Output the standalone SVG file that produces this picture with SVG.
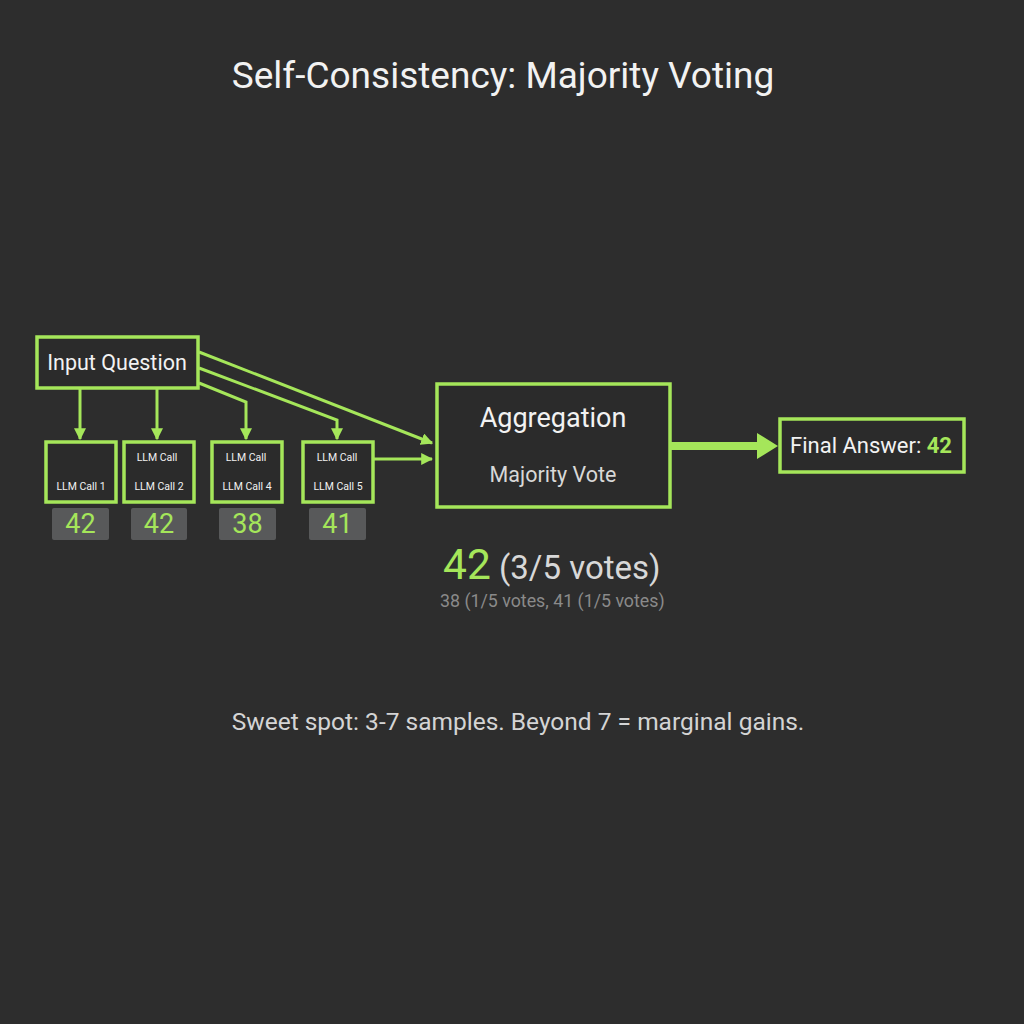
<svg xmlns="http://www.w3.org/2000/svg" width="1024" height="1024" viewBox="0 0 1024 1024">
<defs>
<style>
text{font-family:Roboto,"Liberation Sans",sans-serif}
.box{fill:#2b2b2b;stroke:#a5e65a;stroke-width:3.5}
.num{fill:#58595a}
.g{fill:#a5e65a}
.conn{stroke:#a5e65a;stroke-width:3;fill:none}
.w{fill:#f2f2f2}
</style>
<marker id="ah" viewBox="0 0 10 10" refX="9" refY="5" markerWidth="4" markerHeight="4" orient="auto" markerUnits="strokeWidth">
<path d="M0,0 L10,5 L0,10 z" fill="#a5e65a"/>
</marker>
</defs>
<rect width="1024" height="1024" fill="#2d2d2d"/>
<text x="503" y="88" font-size="37" text-anchor="middle" class="w">Self-Consistency: Majority Voting</text>

<g id="connectors">
<line class="conn" x1="80" y1="389" x2="80" y2="439" marker-end="url(#ah)"/>
<line class="conn" x1="157" y1="389" x2="157" y2="439" marker-end="url(#ah)"/>
<polyline class="conn" points="199,383 246,402 246,439" marker-end="url(#ah)"/>
<polyline class="conn" points="199,368 337,420 337,439" marker-end="url(#ah)"/>
<line class="conn" x1="199" y1="352" x2="432" y2="443" marker-end="url(#ah)"/>
<line class="conn" x1="374" y1="459" x2="432" y2="459" marker-end="url(#ah)"/>
<path d="M671,442 L757,442 L757,433 L778,446 L757,459 L757,450 L671,450 z" fill="#a5e65a"/>
</g>

<g id="input">
<rect class="box" x="37" y="337" width="161" height="51"/>
<text x="117" y="370" font-size="21.5" text-anchor="middle" class="w">Input Question</text>
</g>

<g id="llm1">
<rect class="box" x="46" y="442" width="70" height="60"/>
<text x="81" y="490" font-size="10.5" text-anchor="middle" class="w">LLM Call 1</text>
</g>
<g id="llm2">
<rect class="box" x="124" y="442" width="70" height="60"/>
<text x="157" y="461" font-size="10.5" text-anchor="middle" class="w">LLM Call</text>
<text x="159" y="490" font-size="10.5" text-anchor="middle" class="w">LLM Call 2</text>
</g>
<g id="llm4">
<rect class="box" x="212" y="442" width="70" height="60"/>
<text x="246" y="461" font-size="10.5" text-anchor="middle" class="w">LLM Call</text>
<text x="247" y="490" font-size="10.5" text-anchor="middle" class="w">LLM Call 4</text>
</g>
<g id="llm5">
<rect class="box" x="303" y="442" width="70" height="60"/>
<text x="337" y="461" font-size="10.5" text-anchor="middle" class="w">LLM Call</text>
<text x="338" y="490" font-size="10.5" text-anchor="middle" class="w">LLM Call 5</text>
</g>

<g id="result1"><rect class="num" x="52" y="508" width="57" height="32" rx="2"/><text x="80.5" y="533" font-size="27" text-anchor="middle" class="g">42</text></g>
<g id="result2"><rect class="num" x="131" y="508" width="56" height="32" rx="2"/><text x="159" y="533" font-size="27" text-anchor="middle" class="g">42</text></g>
<g id="result4"><rect class="num" x="219" y="508" width="57" height="32" rx="2"/><text x="247.5" y="533" font-size="27" text-anchor="middle" class="g">38</text></g>
<g id="result5"><rect class="num" x="309" y="508" width="57" height="32" rx="2"/><text x="337.5" y="533" font-size="27" text-anchor="middle" class="g">41</text></g>

<g id="aggregation">
<rect class="box" x="437" y="384" width="233" height="123"/>
<text x="553" y="427" font-size="27" text-anchor="middle" class="w">Aggregation</text>
<text x="553" y="482" font-size="21.5" text-anchor="middle" fill="#d8d8d8">Majority Vote</text>
</g>

<g id="final">
<rect class="box" x="780" y="419" width="184" height="53"/>
<text x="871" y="453" font-size="22" text-anchor="middle" class="w">Final Answer: <tspan class="g" font-weight="bold">42</tspan></text>
</g>

<g id="votes">
<text x="443" y="579" font-size="33" fill="#d8d8d8"><tspan class="g" font-size="42.5">42</tspan> (3/5 votes)</text>
<text x="440" y="607" font-size="17.8" fill="#8a8a8a">38 (1/5 votes, 41 (1/5 votes)</text>
</g>

<text x="518" y="730" font-size="24.5" text-anchor="middle" fill="#d4d4d4">Sweet spot: 3-7 samples. Beyond 7 = marginal gains.</text>
</svg>
